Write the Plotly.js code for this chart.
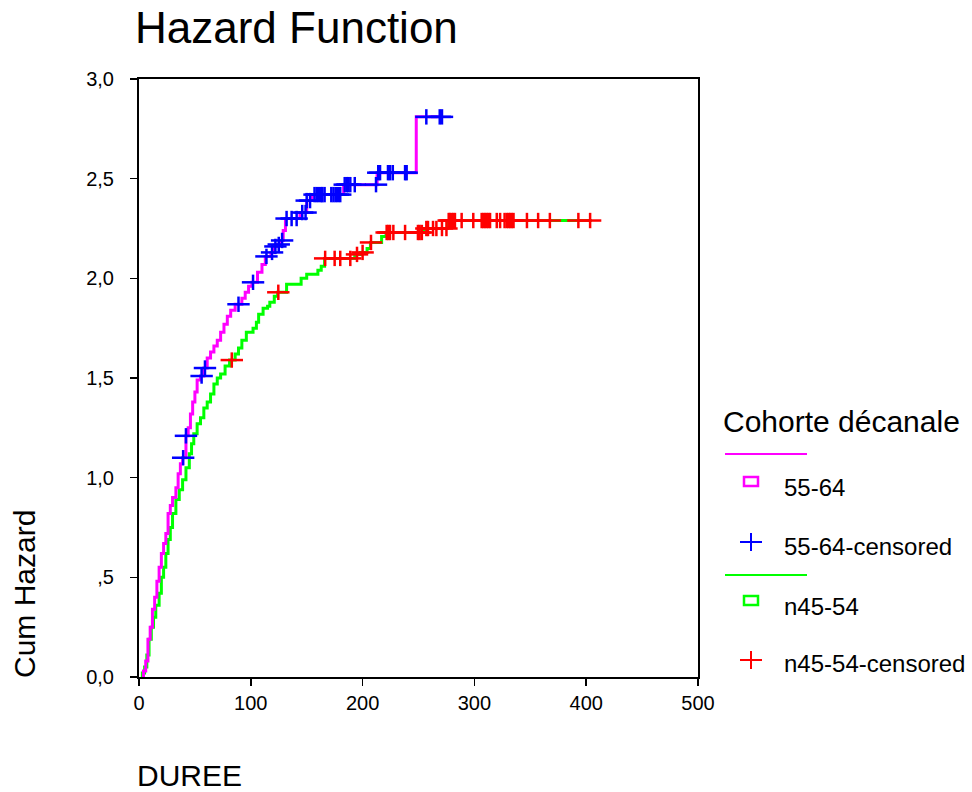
<!DOCTYPE html>
<html>
<head>
<meta charset="utf-8">
<script src="https://cdn.plot.ly/plotly-3.0.1.min.js"></script>
<style>html,body{margin:0;padding:0;background:#fff;}#chart{width:972px;height:792px;}</style>
</head>
<body>
<div id="chart"></div>
<script>
// 55-64 cumulative hazard (step function)
var g1Time = [3,4,6,8,10,12,14,16,18,20,22,24,26,28,30,33,35,37,39,42,44,46,48,50,52,55,58,61,64,67,70,73,76,79,82,86,92,95,98,101,106,110,113,118,121,124,127,129,131,144,150,155,183,213,248,271];
var g1Haz  = [0,0.03,0.08,0.19,0.25,0.34,0.40,0.48,0.55,0.62,0.67,0.72,0.82,0.86,0.90,0.95,1.02,1.07,1.10,1.21,1.25,1.32,1.38,1.43,1.49,1.51,1.55,1.60,1.63,1.66,1.69,1.73,1.77,1.81,1.84,1.87,1.90,1.93,1.96,1.98,2.03,2.07,2.11,2.13,2.16,2.17,2.19,2.24,2.30,2.33,2.39,2.42,2.47,2.53,2.81,2.81];
// 55-64 censored
var g1CensTime = [39.5,42,56,59,89,102,114,119,122,125,128,132,136.5,141,146,149,150,153,157,159,161,163,164,166,172,174,176,178,180,184,186,187,189,193,212,214,215.6,222.7,224.5,227,238,239.4,257,269,271];
var g1CensHaz  = [1.10,1.21,1.51,1.55,1.87,1.98,2.11,2.13,2.16,2.17,2.19,2.30,2.30,2.30,2.33,2.33,2.39,2.39,2.42,2.42,2.42,2.42,2.42,2.42,2.42,2.42,2.42,2.42,2.42,2.47,2.47,2.47,2.47,2.47,2.47,2.53,2.53,2.53,2.53,2.53,2.53,2.53,2.81,2.81,2.81];
// n45-54 cumulative hazard
var g2Time = [2,3,5,7,9,11,13,15,18,20,22,24,26,28,30,33,36,39,42,45,47,49,52,55,58,61,64,67,70,73,77,81,86,89,92,96,102,105,107,111,115,117,121,124,132,145,150,160,163,166,193,198,204,207,217,221,255,276,405];
var g2Haz  = [0,0.02,0.05,0.11,0.19,0.25,0.30,0.36,0.42,0.50,0.55,0.62,0.69,0.75,0.82,0.89,0.94,0.99,1.05,1.12,1.17,1.22,1.27,1.30,1.35,1.38,1.42,1.47,1.50,1.52,1.56,1.59,1.62,1.65,1.69,1.73,1.75,1.78,1.82,1.85,1.86,1.88,1.91,1.93,1.97,2.00,2.02,2.04,2.06,2.10,2.12,2.13,2.15,2.18,2.21,2.23,2.25,2.29,2.29];
// n45-54 censored
var g2CensTime = [83,124.6,166.5,175,180,189,195,200,207.5,221.5,223,224.5,227.5,238,249.5,251,253,257,258.5,263,266,271,275,277,278,279.6,281,282.6,288.6,299,306.5,308,309.5,311,312.5,314,320,323,327,329,330.5,332,333.5,335,347,357,367.5,393,403.5];
var g2CensHaz  = [1.59,1.93,2.10,2.10,2.10,2.10,2.12,2.13,2.18,2.23,2.23,2.23,2.23,2.23,2.23,2.23,2.23,2.25,2.25,2.25,2.25,2.25,2.25,2.29,2.29,2.29,2.29,2.29,2.29,2.29,2.29,2.29,2.29,2.29,2.29,2.29,2.29,2.29,2.29,2.29,2.29,2.29,2.29,2.29,2.29,2.29,2.29,2.29,2.29];

var yTickVals = [0,0.5,1,1.5,2,2.5,3];
var yTickText = ['0,0',',5','1,0','1,5','2,0','2,5','3,0'];
var xTickVals = [0,100,200,300,400,500];

var legendTitle = 'Cohorte décanale';
var legendNames = ['55-64','55-64-censored','n45-54','n45-54-censored'];

var FONT = 'Liberation Sans, Arial, sans-serif';
var MAG = '#FF00FF', BLU = '#0000FF', GRN = '#00FF00', RED = '#FF0000';

function crossTraces(x, y, col) {
  return [
    {x:x, y:y, type:'scatter', mode:'markers', hoverinfo:'skip', showlegend:false,
     marker:{symbol:'line-ew', size:16, color:col, line:{color:col, width:2.5}}},
    {x:x, y:y, type:'scatter', mode:'markers', hoverinfo:'skip', showlegend:false,
     marker:{symbol:'line-ns', size:11, color:col, line:{color:col, width:2.5}}}
  ];
}

var traces = [];
traces.push({x:g2Time, y:g2Haz, type:'scatter', mode:'lines', line:{shape:'hv', color:GRN, width:3}, showlegend:false});
traces.push({x:g1Time, y:g1Haz, type:'scatter', mode:'lines', line:{shape:'hv', color:MAG, width:3}, showlegend:false});
traces = traces.concat(crossTraces(g2CensTime, g2CensHaz, RED));
traces = traces.concat(crossTraces(g1CensTime, g1CensHaz, BLU));

// paper-coordinate helpers (plot area 139..698 px, 79..677 px)
function px(x){ return (x-139)/559; }
function py(y){ return (677-y)/598; }

var shapes = [];
var annotations = [];
// legend glyphs
shapes.push({type:'line', xref:'paper', yref:'paper', x0:px(725), x1:px(807), y0:py(454), y1:py(454), line:{color:MAG, width:2}});
shapes.push({type:'rect', xref:'paper', yref:'paper', x0:px(744), x1:px(758), y0:py(477), y1:py(486), line:{color:MAG, width:2.5}});
shapes.push({type:'line', xref:'paper', yref:'paper', x0:px(740), x1:px(762), y0:py(542), y1:py(542), line:{color:BLU, width:2}});
shapes.push({type:'line', xref:'paper', yref:'paper', x0:px(751), x1:px(751), y0:py(533), y1:py(551), line:{color:BLU, width:2}});
shapes.push({type:'line', xref:'paper', yref:'paper', x0:px(725), x1:px(807), y0:py(575), y1:py(575), line:{color:GRN, width:2}});
shapes.push({type:'rect', xref:'paper', yref:'paper', x0:px(744), x1:px(758), y0:py(596), y1:py(605), line:{color:GRN, width:2.5}});
shapes.push({type:'line', xref:'paper', yref:'paper', x0:px(740), x1:px(762), y0:py(660), y1:py(660), line:{color:RED, width:2}});
shapes.push({type:'line', xref:'paper', yref:'paper', x0:px(751), x1:px(751), y0:py(651), y1:py(669), line:{color:RED, width:2}});

var lblY = [487, 546, 606, 663];
annotations.push({xref:'paper', yref:'paper', x:px(721), y:py(422), xanchor:'left', yanchor:'middle', showarrow:false,
  text:legendTitle, font:{family:FONT, size:30, color:'#000'}});
for (var i=0;i<legendNames.length;i++){
  annotations.push({xref:'paper', yref:'paper', x:px(782), y:py(lblY[i]), xanchor:'left', yanchor:'middle', showarrow:false,
    text:legendNames[i], font:{family:FONT, size:24, color:'#000'}});
}
// axis titles
annotations.push({xref:'paper', yref:'paper', x:px(24), y:py(594), xanchor:'center', yanchor:'middle', showarrow:false,
  textangle:-90, text:'Cum Hazard', font:{family:FONT, size:30, color:'#000'}});
annotations.push({xref:'paper', yref:'paper', x:px(135), y:py(775), xanchor:'left', yanchor:'middle', showarrow:false,
  text:'DUREE', font:{family:FONT, size:30, color:'#000'}});

var layout = {
  width:972, height:792,
  paper_bgcolor:'#fff', plot_bgcolor:'#fff',
  margin:{l:139, r:274, t:79, b:115, pad:0},
  font:{family:FONT, color:'#000'},
  title:{text:'Hazard Function', x:135/972, xref:'container', xanchor:'left', y:1-28/792, yref:'container', yanchor:'middle',
         font:{family:FONT, size:44, color:'#000'}},
  xaxis:{range:[0,500], tickvals:xTickVals, ticktext:xTickVals.map(String), ticks:'outside', ticklen:7, tickwidth:1.5, tickcolor:'#000',
         showline:true, linecolor:'#000', linewidth:2, mirror:true, showgrid:false, zeroline:false,
         tickfont:{family:FONT, size:20, color:'#000'}},
  yaxis:{range:[0,3], tickvals:yTickVals, ticktext:yTickText, ticks:'outside', ticklen:7, tickwidth:1.5, tickcolor:'#000',
         showline:true, linecolor:'#000', linewidth:2, mirror:true, showgrid:false, zeroline:false,
         ticklabelstandoff:12, tickfont:{family:FONT, size:20, color:'#000'}},
  showlegend:false,
  shapes:shapes,
  annotations:annotations
};

Plotly.newPlot('chart', traces, layout, {displayModeBar:false, staticPlot:true});
</script>
</body>
</html>
